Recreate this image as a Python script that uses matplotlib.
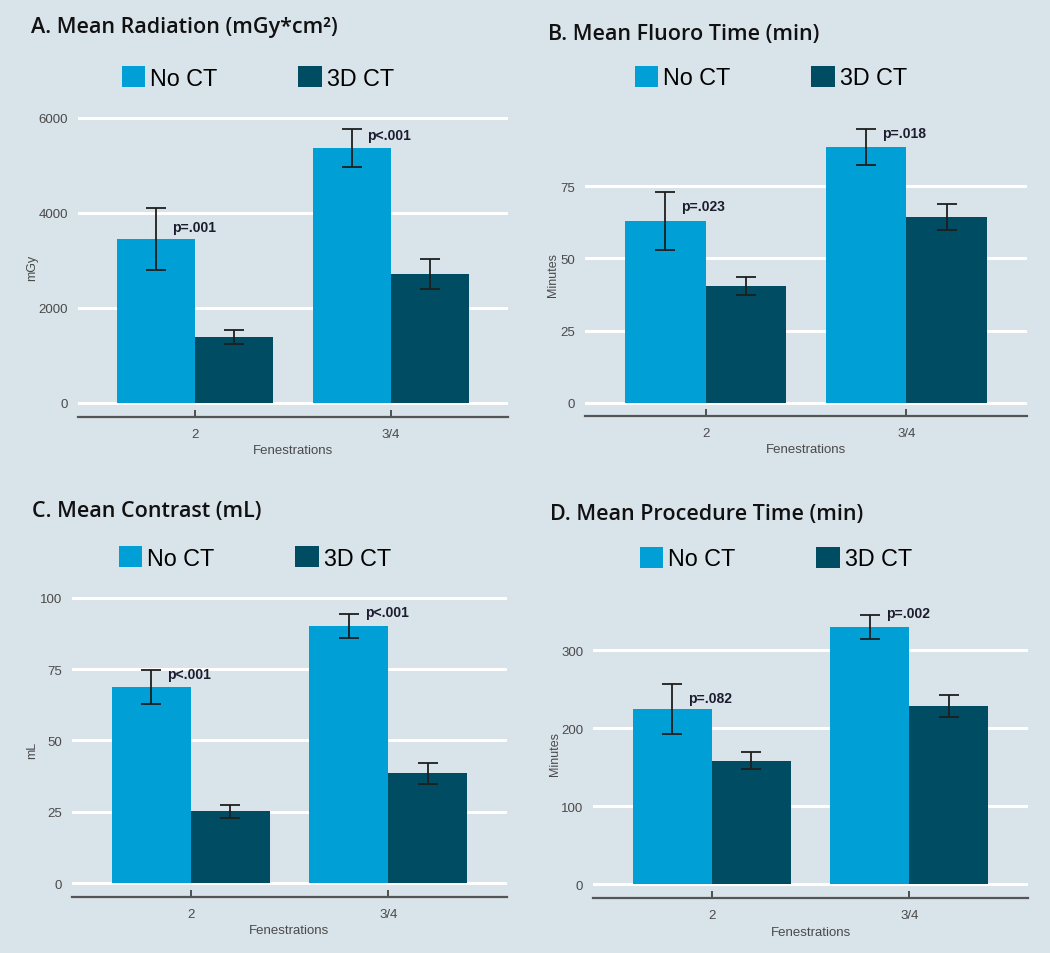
import matplotlib.pyplot as plt
import numpy as np

# Data
categories = ['2', '3/4']
series_names = ['No CT', '3D CT']

titles = ['A. Mean Radiation (mGy*cm\u00b2)', 'B. Mean Fluoro Time (min)',
          'C. Mean Contrast (mL)', 'D. Mean Procedure Time (min)']
ylabels = ['mGy', 'Minutes', 'mL', 'Minutes']

radiation_noct = [3450, 5370]
radiation_noct_err = [660, 400]
radiation_3d = [1390, 2720]
radiation_3d_err = [140, 320]

fluoro_noct = [63.0, 88.5]
fluoro_noct_err = [10.0, 6.2]
fluoro_3d = [40.6, 64.3]
fluoro_3d_err = [3.1, 4.5]

contrast_noct = [68.6, 90.2]
contrast_noct_err = [6.0, 4.2]
contrast_3d = [25.1, 38.4]
contrast_3d_err = [2.4, 3.8]

proc_noct = [224, 329.5]
proc_noct_err = [32, 16]
proc_3d = [158, 228.6]
proc_3d_err = [11, 14]

p_text = [['p=.001', 'p<.001'], ['p=.023', 'p=.018'],
          ['p<.001', 'p<.001'], ['p=.082', 'p=.002']]
p_ypos = [[3705, 5642], [68.1, 93.4], [73.3, 95.1], [238.5, 347]]

yticks = [[0, 2000, 4000, 6000], [0, 25, 50, 75], [0, 25, 50, 75, 100], [0, 100, 200, 300]]
ylims = [(-295, 6300), (-4.5, 98), (-4.9, 103), (-18.3, 370)]

noct_vals = [radiation_noct, fluoro_noct, contrast_noct, proc_noct]
noct_errs = [radiation_noct_err, fluoro_noct_err, contrast_noct_err, proc_noct_err]
ct3d_vals = [radiation_3d, fluoro_3d, contrast_3d, proc_3d]
ct3d_errs = [radiation_3d_err, fluoro_3d_err, contrast_3d_err, proc_3d_err]

#%%
# Layout in figure pixels (1050 x 954)
W, H = 1050, 954
axes_px = [(78, 508, 104.75, 418), (585, 1027, 120.6, 417),
           (72, 507, 590.2, 898), (593, 1028, 596.4, 899.3)]
title_px = [(31, 33), (548, 40), (32, 517), (550, 520)]
legend_px = [(122, 79), (635, 78.5), (119, 559), (640, 559.5)]
ylabel_x_px = [38, 559, 38, 561]

bg = '#d9e3ea'
c_noct = '#00a0d6'
c_3d = '#004c63'
tick_gray = '#4a4a4a'

fig = plt.figure(figsize=(W / 100, H / 100), dpi=100, facecolor=bg)

x = np.arange(len(categories))
bw = 0.4

for i in range(4):
    x0, x1, yt, yb = axes_px[i]
    ax = fig.add_axes([x0 / W, 1 - yb / H, (x1 - x0) / W, (yb - yt) / H])
    ax.set_facecolor('none')

    ax.bar(x - bw / 2, noct_vals[i], bw, color=c_noct, label=series_names[0], zorder=3)
    ax.bar(x + bw / 2, ct3d_vals[i], bw, color=c_3d, label=series_names[1], zorder=3)
    ax.errorbar(x - bw / 2, noct_vals[i], yerr=noct_errs[i], fmt='none',
                ecolor='#1e1e1e', elinewidth=1.3, capsize=7, capthick=1.3, zorder=4)
    ax.errorbar(x + bw / 2, ct3d_vals[i], yerr=ct3d_errs[i], fmt='none',
                ecolor='#1e1e1e', elinewidth=1.3, capsize=7, capthick=1.3, zorder=4)

    for j in range(len(categories)):
        ax.text(x[j] - bw / 2 + 0.08, p_ypos[i][j], p_text[i][j], ha='left', va='center',
                fontsize=10, fontweight='bold', color='#1c1c2e',
                family='Liberation Sans', zorder=5)

    ax.set_xlim(-0.6, 1.6)
    ax.set_ylim(*ylims[i])
    ax.set_yticks(yticks[i])
    ax.set_xticks(x)
    ax.set_xticklabels(categories)
    ax.grid(axis='y', color='white', linewidth=2.2, zorder=0)
    ax.set_axisbelow(True)

    for s in ['top', 'right', 'left']:
        ax.spines[s].set_visible(False)
    ax.spines['bottom'].set_color('#555555')
    ax.spines['bottom'].set_linewidth(1.6)

    ax.tick_params(axis='y', length=0, pad=7, labelsize=9.5, labelcolor=tick_gray)
    ax.tick_params(axis='x', direction='in', length=5, width=1.3, color='#444444',
                   pad=8, labelsize=9.5, labelcolor=tick_gray)
    for lab in ax.get_xticklabels() + ax.get_yticklabels():
        lab.set_family('Liberation Sans')

    ax.set_xlabel('Fenestrations', fontsize=9.5, color=tick_gray, labelpad=3,
                  family='Liberation Sans')
    ax.set_ylabel(ylabels[i], fontsize=9, color=tick_gray, family='Liberation Sans')
    ax.yaxis.set_label_coords((ylabel_x_px[i] - x0) / (x1 - x0), 0.48)

    lx, ly = legend_px[i]
    ax.legend(loc='center left', bbox_to_anchor=(lx / W, 1 - ly / H),
              bbox_transform=fig.transFigure, ncol=2, frameon=False,
              borderpad=0, borderaxespad=0, handlelength=1.0, handleheight=1.0,
              handletextpad=0.22, columnspacing=3.45,
              prop={'family': 'Liberation Sans', 'size': 16.8})

    tx, ty = title_px[i]
    fig.text(tx / W, 1 - ty / H, titles[i], ha='left', va='baseline',
             fontsize=15.5, fontweight='semibold', family='Open Sans', color='#111111')

fig.savefig('out.png', dpi=100, facecolor=bg)
